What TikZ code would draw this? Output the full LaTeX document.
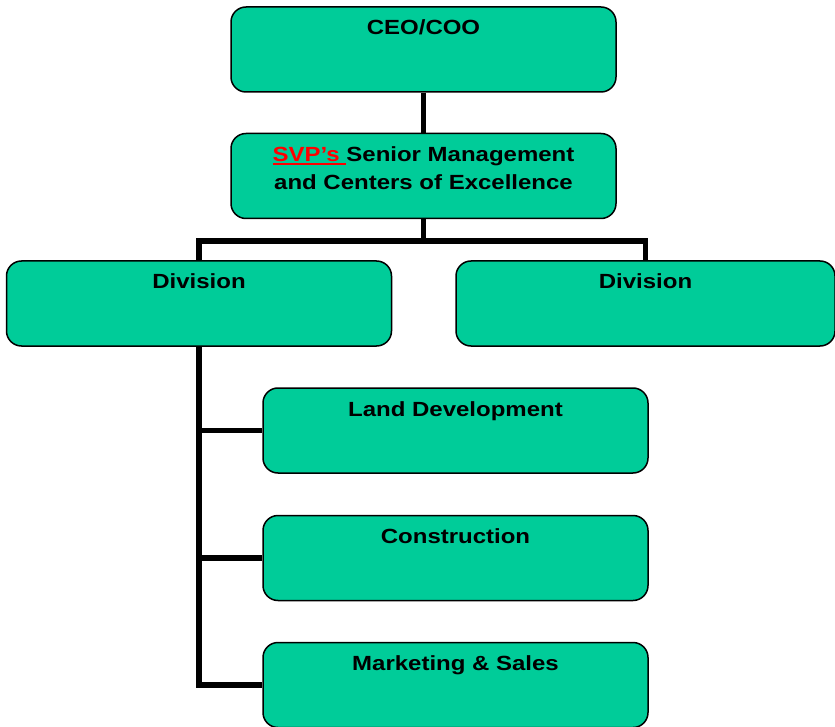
\documentclass[tikz,border=0pt]{standalone}
\usepackage{fontspec}
\setmainfont{Liberation Sans}[FakeStretch=1.17]
\definecolor{boxgreen}{RGB}{0,204,153}
\newcommand{\ulred}[1]{\textcolor{red}{\setbox0\hbox{#1}\rlap{\rule[-3.5pt]{\wd0}{2pt}}\box0}}
\tikzset{
  orgbox/.style={draw=black, line width=1.5pt, fill=boxgreen, rounded corners=15pt,
    minimum width=385pt, minimum height=85pt, inner ysep=0pt,
    text height=28pt, text depth=57pt, align=center,
    font=\fontsize{20.5}{28}\selectfont\bfseries},
  conn/.style={line width=5.5pt}
}
\begin{document}
\begin{tikzpicture}[x=1pt,y=-1pt]
    \useasboundingbox (0,0) rectangle (835,727);
    % edit here for the boxes
    \node[orgbox] (ceo) at (423.5,49.5) {CEO/COO};
    \node[orgbox, text height=56pt, text depth=28pt] (svp) at (423.5,176)
        {\ulred{SVP’s }Senior Management\\and Centers of Excellence};
    \node[orgbox] (divl) at (199,303.5) {Division};
    \node[orgbox, minimum width=379pt] (divr) at (645.5,303.5) {Division};
    \node[orgbox] (land) at (455.5,430.5) {Land Development};
    \node[orgbox] (cons) at (455.5,558) {Construction};
    \node[orgbox] (mark) at (455.5,685) {Marketing \& Sales};
    % edit here for the lines
    \draw[conn] (ceo.south) -- (svp.north);
    \draw[conn] (svp.south) -- ++(0,22) coordinate (split);
    \draw[conn] (divl.north) |- (split) -| (divr.north);
    \draw[conn] (divl.south) |- (mark.west);
    \foreach \b in {land,cons}
        \draw[conn] (divl.south |- \b.west) -- (\b.west);
\end{tikzpicture}
\end{document}
